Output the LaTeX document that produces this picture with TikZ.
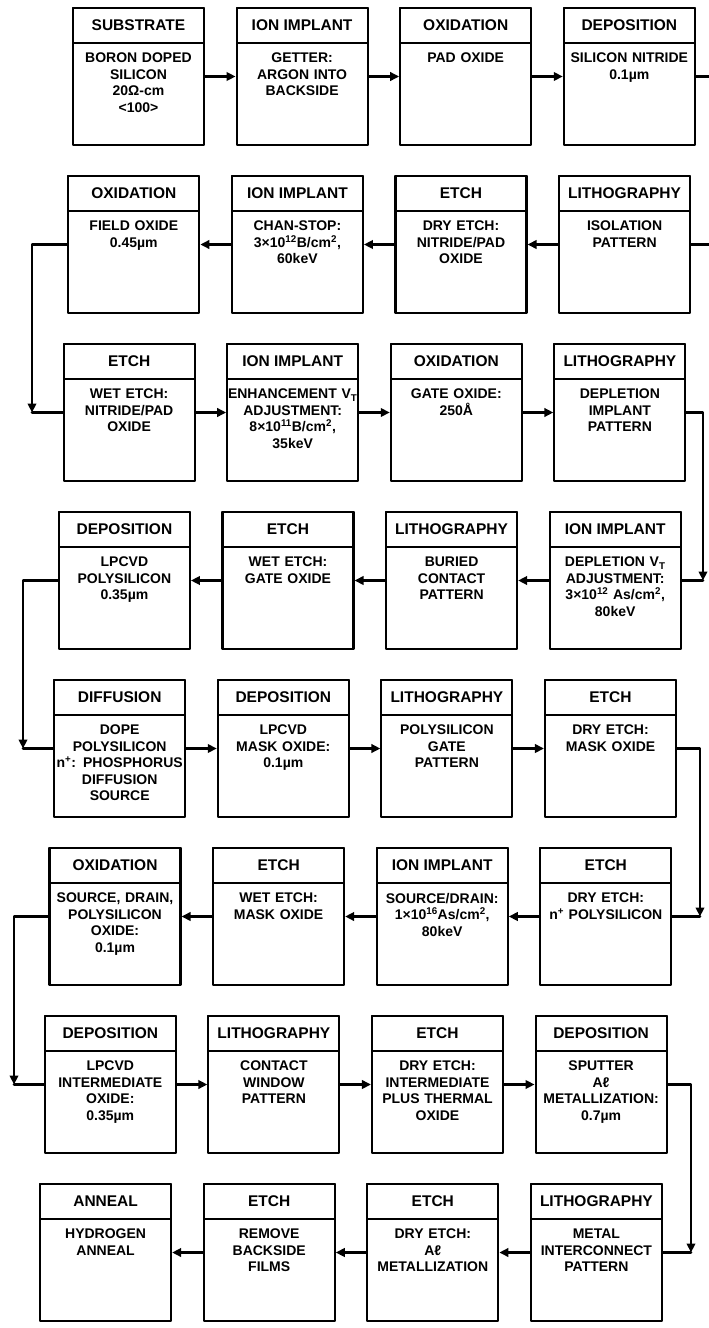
\documentclass[tikz,border=0pt]{standalone}
\usepackage{fontspec}
\setmainfont{Liberation Sans}
\usetikzlibrary{positioning,arrows.meta}

\tikzset{
  stepbox/.style={draw,line width=2.1pt,minimum width=131pt,minimum height=137pt,inner sep=0pt},
  head/.style={draw,line width=2.1pt,minimum width=131pt,minimum height=35pt,inner sep=0pt,anchor=north,
    font={\fontsize{15.5}{17}\selectfont\bfseries}},
  body/.style={anchor=north,text width=135pt,align=center,inner sep=0pt,
    font={\fontsize{14}{16.5}\selectfont\bfseries}},
  flow/.style={->,line width=2.7pt},
  link/.style={line width=2.7pt}
}
% one process step: name, placement, header, body
\newcommand{\pstep}[4]{%
  \node[stepbox,#2] (#1) {};
  \node[head] (#1h) at (#1.north) {#3};
  \node[body] (#1b) at ([yshift=-46pt]#1.north) {#4};
}

\begin{document}
\begin{tikzpicture}[x=1pt,y=-1pt,line cap=round,line join=round,>={Triangle[length=9pt,width=8.5pt]}]
\useasboundingbox (0,0) rectangle (709,1328);

% row 1
\pstep{sub}{at={(138.5,76.5)}}{SUBSTRATE}{BORON DOPED\\SILICON\\20Ω-cm\\<100>}
\pstep{getter}{right=30.5pt of sub}{ION IMPLANT}{GETTER:\\ARGON INTO\\BACKSIDE}
\pstep{padox}{right=30.5pt of getter}{OXIDATION}{PAD OXIDE}
\pstep{nitride}{right=30.5pt of padox}{DEPOSITION}{SILICON NITRIDE\\0.1µm}
% row 2
\pstep{fieldox}{at={(133.8,244.5)}}{OXIDATION}{FIELD OXIDE\\0.45µm}
\pstep{chanstop}{right=30.5pt of fieldox}{ION IMPLANT}{CHAN-STOP:\\3×10\textsuperscript{12}B/cm\textsuperscript{2},\\60keV}
\pstep{dryetch}{right=30.5pt of chanstop}{ETCH}{DRY ETCH:\\NITRIDE/PAD\\OXIDE}
\pstep{isolpat}{right=30.5pt of dryetch}{LITHOGRAPHY}{ISOLATION\\PATTERN}
% row 3
\pstep{wetetch}{at={(129.1,412.5)}}{ETCH}{WET ETCH:\\NITRIDE/PAD\\OXIDE}
\pstep{enhimp}{right=30.5pt of wetetch}{ION IMPLANT}{ENHANCEMENT V\textsubscript{T}\\ADJUSTMENT:\\8×10\textsuperscript{11}B/cm\textsuperscript{2},\\35keV}
\pstep{gateox}{right=30.5pt of enhimp}{OXIDATION}{GATE OXIDE:\\250Å}
\pstep{deplpat}{right=30.5pt of gateox}{LITHOGRAPHY}{DEPLETION\\IMPLANT\\PATTERN}
% row 4
\pstep{poly}{at={(124.4,580.5)}}{DEPOSITION}{LPCVD\\POLYSILICON\\0.35µm}
\pstep{gateetch}{right=30.5pt of poly}{ETCH}{WET ETCH:\\GATE OXIDE}
\pstep{burpat}{right=30.5pt of gateetch}{LITHOGRAPHY}{BURIED\\CONTACT\\PATTERN}
\pstep{deplimp}{right=30.5pt of burpat}{ION IMPLANT}{DEPLETION V\textsubscript{T}\\ADJUSTMENT:\\3×10\textsuperscript{12} As/cm\textsuperscript{2},\\80keV}
% row 5
\pstep{dope}{at={(119.7,748.5)}}{DIFFUSION}{DOPE\\POLYSILICON\\n\textsuperscript{+}: PHOSPHORUS\\DIFFUSION\\SOURCE}
\pstep{maskox}{right=30.5pt of dope}{DEPOSITION}{LPCVD\\MASK OXIDE:\\0.1µm}
\pstep{polypat}{right=30.5pt of maskox}{LITHOGRAPHY}{POLYSILICON\\GATE\\PATTERN}
\pstep{maskdry}{right=30.5pt of polypat}{ETCH}{DRY ETCH:\\MASK OXIDE}
% row 6
\pstep{sdox}{at={(115,916.5)}}{OXIDATION}{SOURCE, DRAIN,\\POLYSILICON\\OXIDE:\\0.1µm}
\pstep{maskwet}{right=30.5pt of sdox}{ETCH}{WET ETCH:\\MASK OXIDE}
\pstep{sdimp}{right=30.5pt of maskwet}{ION IMPLANT}{SOURCE/DRAIN:\\1×10\textsuperscript{16}As/cm\textsuperscript{2},\\80keV}
\pstep{polydry}{right=30.5pt of sdimp}{ETCH}{DRY ETCH:\\n\textsuperscript{+} POLYSILICON}
% row 7
\pstep{interox}{at={(110.3,1084.5)}}{DEPOSITION}{LPCVD\\INTERMEDIATE\\OXIDE:\\0.35µm}
\pstep{contpat}{right=30.5pt of interox}{LITHOGRAPHY}{CONTACT\\WINDOW\\PATTERN}
\pstep{contdry}{right=30.5pt of contpat}{ETCH}{DRY ETCH:\\INTERMEDIATE\\PLUS THERMAL\\OXIDE}
\pstep{alsput}{right=30.5pt of contdry}{DEPOSITION}{SPUTTER\\Aℓ\\METALLIZATION:\\0.7µm}
% row 8
\pstep{anneal}{at={(105.6,1252.5)}}{ANNEAL}{HYDROGEN\\ANNEAL}
\pstep{backrem}{right=30.5pt of anneal}{ETCH}{REMOVE\\BACKSIDE\\FILMS}
\pstep{aldry}{right=30.5pt of backrem}{ETCH}{DRY ETCH:\\Aℓ\\METALLIZATION}
\pstep{metpat}{right=30.5pt of aldry}{LITHOGRAPHY}{METAL\\INTERCONNECT\\PATTERN}

% turning points between rows
\coordinate (t1) at (716,244.5);
\coordinate (t2) at (32,412.5);
\coordinate (t3) at (703,580.5);
\coordinate (t4) at (23,748.5);
\coordinate (t5) at (700,916.5);
\coordinate (t6) at (14,1084.5);
\coordinate (t7) at (691,1252.5);

% process flow
\draw[flow] (sub) -- (getter);
\draw[flow] (getter) -- (padox);
\draw[flow] (padox) -- (nitride);
\draw[flow] (nitride) -| (t1);
\draw[link] (t1) -- (isolpat);
\draw[flow] (isolpat) -- (dryetch);
\draw[flow] (dryetch) -- (chanstop);
\draw[flow] (chanstop) -- (fieldox);
\draw[flow] (fieldox) -| (t2);
\draw[link] (t2) -- (wetetch);
\draw[flow] (wetetch) -- (enhimp);
\draw[flow] (enhimp) -- (gateox);
\draw[flow] (gateox) -- (deplpat);
\draw[flow] (deplpat) -| (t3);
\draw[link] (t3) -- (deplimp);
\draw[flow] (deplimp) -- (burpat);
\draw[flow] (burpat) -- (gateetch);
\draw[flow] (gateetch) -- (poly);
\draw[flow] (poly) -| (t4);
\draw[link] (t4) -- (dope);
\draw[flow] (dope) -- (maskox);
\draw[flow] (maskox) -- (polypat);
\draw[flow] (polypat) -- (maskdry);
\draw[flow] (maskdry) -| (t5);
\draw[link] (t5) -- (polydry);
\draw[flow] (polydry) -- (sdimp);
\draw[flow] (sdimp) -- (maskwet);
\draw[flow] (maskwet) -- (sdox);
\draw[flow] (sdox) -| (t6);
\draw[link] (t6) -- (interox);
\draw[flow] (interox) -- (contpat);
\draw[flow] (contpat) -- (contdry);
\draw[flow] (contdry) -- (alsput);
\draw[flow] (alsput) -| (t7);
\draw[link] (t7) -- (metpat);
\draw[flow] (metpat) -- (aldry);
\draw[flow] (aldry) -- (backrem);
\draw[flow] (backrem) -- (anneal);
\end{tikzpicture}
\end{document}
